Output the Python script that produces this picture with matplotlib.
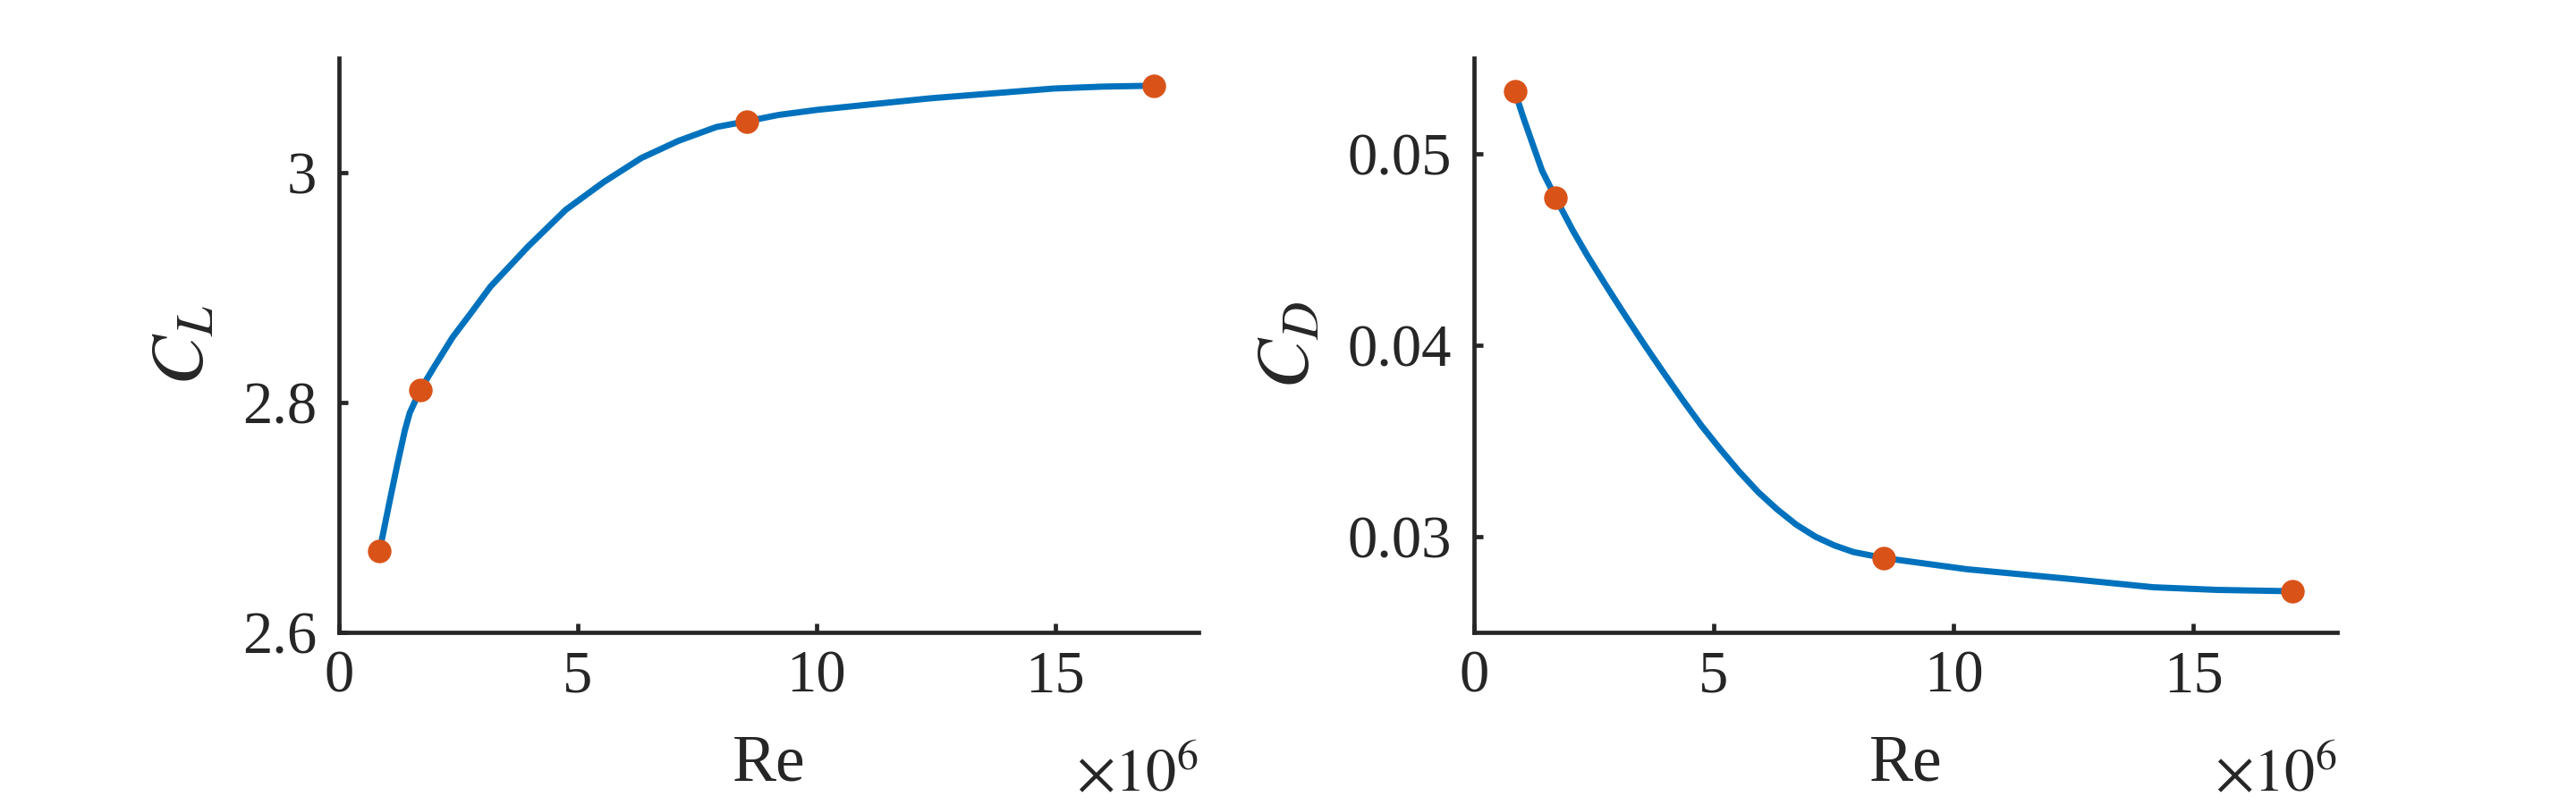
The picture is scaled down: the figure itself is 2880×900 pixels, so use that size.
import matplotlib
matplotlib.use('Agg')
import matplotlib.pyplot as plt
import numpy as np

# sample points (Reynolds number, lift and drag coefficients)
re_pts = np.array([0.85e6, 1.70e6, 8.54e6, 17.07e6])
cl_pts = [2.671, 2.811, 3.045, 3.076]
cd_pts = [0.05327, 0.04771, 0.02889, 0.02715]

# smooth fit curves
cl_curve_re = np.array([0.85, 1.04, 1.22, 1.38, 1.48, 1.70, 1.99, 2.38, 2.78, 3.17,
                        3.96, 4.75, 5.54, 6.33, 7.11, 7.90, 8.54, 9.20, 10.02, 12.38,
                        14.96, 16.0, 17.07]) * 1e6
cl_curve = [2.671, 2.710, 2.746, 2.776, 2.791, 2.811, 2.831, 2.857, 2.879, 2.901,
            2.936, 2.968, 2.992, 3.013, 3.028, 3.040, 3.045, 3.0505, 3.055, 3.065,
            3.0735, 3.0752, 3.076]

cd_curve_re = np.array([0.85, 1.03, 1.23, 1.42, 1.58, 1.70, 2.06, 2.37, 2.77, 3.16,
                        3.56, 3.95, 4.35, 4.74, 5.14, 5.53, 5.93, 6.32, 6.72, 7.12,
                        7.51, 7.91, 8.54, 10.28, 12.40, 14.16, 15.50, 17.07]) * 1e6
cd_curve = [0.05327, 0.05189, 0.05046, 0.04912, 0.04832, 0.04771, 0.0460, 0.04466,
            0.04305, 0.04153, 0.04001, 0.03858, 0.03715, 0.03581, 0.03456, 0.0334,
            0.03232, 0.03143, 0.03063, 0.0300, 0.02955, 0.0292, 0.02889, 0.0283,
            0.0278, 0.02736, 0.02722, 0.02715]

x_ticks = [0, 5, 10, 15]
cl_ticks = [2.6, 2.8, 3.0]
cl_ticklabels = ['2.6', '2.8', '3']
cd_ticks = [0.03, 0.04, 0.05]
cd_ticklabels = ['0.03', '0.04', '0.05']

plt.rcParams['font.family'] = ['Liberation Serif', 'DejaVu Serif']
plt.rcParams['mathtext.fontset'] = 'stix'

dark = '#262626'
blue = '#0072BD'
orange = '#D95319'

fig = plt.figure(figsize=(28.8, 9), dpi=100)
ax1 = fig.add_axes([0.1316, 0.2144, 0.4653 - 0.1316, 0.9278 - 0.2144])
ax2 = fig.add_axes([0.5722, 0.2144, 0.9073 - 0.5722, 0.9278 - 0.2144])

panels = [
    (ax1, cl_curve_re, cl_curve, cl_pts, (2.6, 3.1), cl_ticks, cl_ticklabels, r'$C_L$'),
    (ax2, cd_curve_re, cd_curve, cd_pts, (0.025, 0.055), cd_ticks, cd_ticklabels, r'$C_D$'),
]

for ax, cx, cy, py, ylim, yt, ytl, ylab in panels:
    ax.plot(cx / 1e6, cy, color=blue, lw=5.0, solid_capstyle='round',
            solid_joinstyle='round', zorder=2)
    ax.plot(re_pts / 1e6, py, 'o', color=orange, ms=19, mec='none', zorder=3)
    ax.set_xlim(0, 18)
    ax.set_ylim(*ylim)
    ax.set_xticks(x_ticks)
    ax.set_xticklabels([str(t) for t in x_ticks])
    ax.set_yticks(yt)
    ax.set_yticklabels(ytl)
    for s in ['top', 'right']:
        ax.spines[s].set_visible(False)
    for s in ['left', 'bottom']:
        ax.spines[s].set_linewidth(3.4)
        ax.spines[s].set_color(dark)
    ax.tick_params(direction='in', length=7, width=3.4, colors=dark, labelsize=48)
    ax.tick_params(axis='x', pad=14)
    ax.tick_params(axis='y', pad=18)
    ax.set_xlabel('Re', fontsize=53, color=dark, labelpad=24)
    ax.set_ylabel(ylab, fontsize=60, color=dark, labelpad=18)
    ax.text(1.0, -0.277, r'$\times10^{6}$', transform=ax.transAxes, ha='right',
            va='baseline', fontsize=49, color=dark)

fig.savefig('out.png', dpi=100, facecolor='white')
